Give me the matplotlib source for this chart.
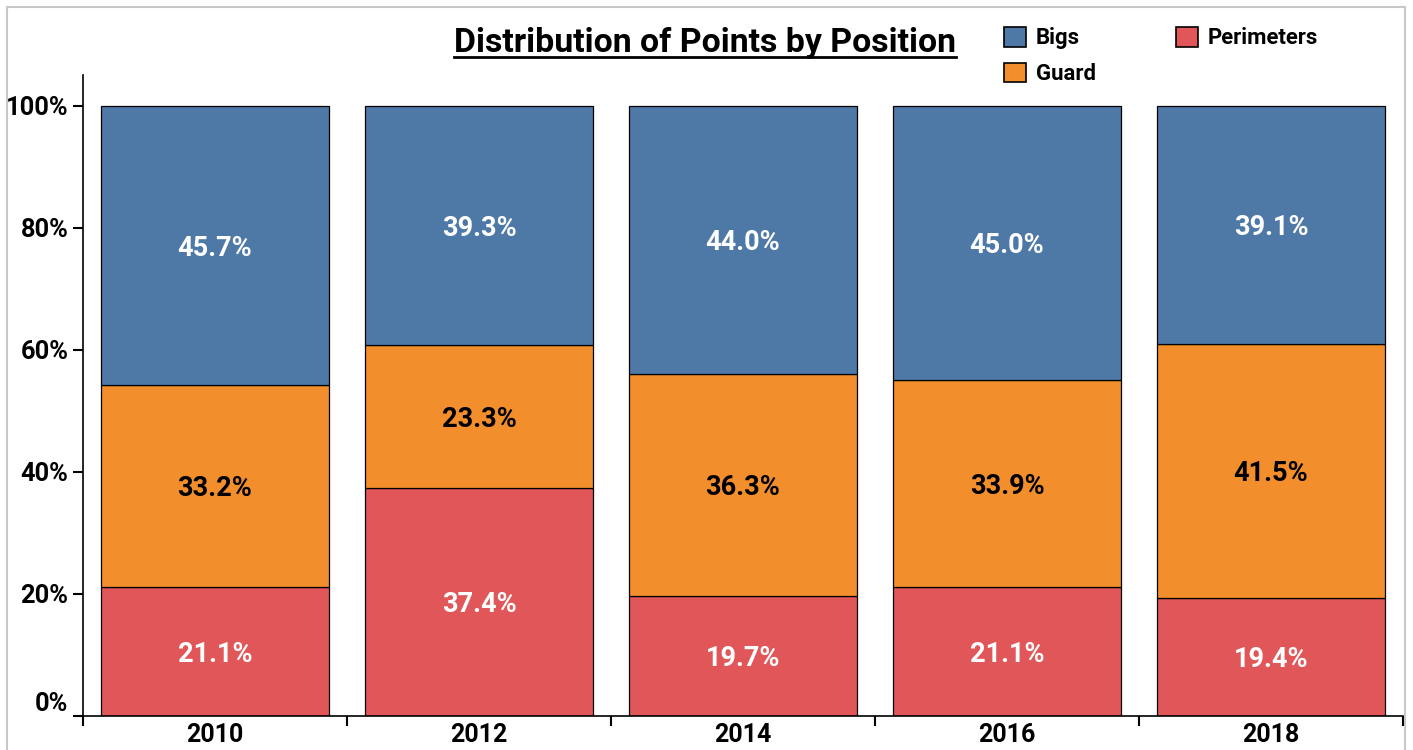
import matplotlib
matplotlib.use("Agg")
import matplotlib.pyplot as plt
from matplotlib.patches import Rectangle, Patch
from matplotlib.lines import Line2D
import numpy as np

years = ["2010", "2012", "2014", "2016", "2018"]
perimeters = [21.1, 37.4, 19.7, 21.1, 19.4]
guard = [33.2, 23.3, 36.3, 33.9, 41.5]
bigs = [45.7, 39.3, 44.0, 45.0, 39.1]
y_ticks = [0, 20, 40, 60, 80, 100]
y_tick_labels = ["0%", "20%", "40%", "60%", "80%", "100%"]

series = [("Perimeters", perimeters, "#e15759", "white"),
          ("Guard", guard, "#f28e2b", "black"),
          ("Bigs", bigs, "#4e79a7", "white")]

plt.rcParams['font.family'] = ['Roboto', 'DejaVu Sans']
plt.rcParams['font.weight'] = 'bold'

W, H = 1413, 750
fig = plt.figure(figsize=(W / 100, H / 100), dpi=100)

# outer border
fig.patches.append(Rectangle((7 / W, -0.1), (1405 - 7) / W, 1.1 - 7 / H,
                             transform=fig.transFigure, fill=False,
                             edgecolor="#c8c8c8", linewidth=1.5))

ax = fig.add_axes([83 / W, 34 / H, (1403 - 83) / W, (716 - 75) / H])
x = np.arange(len(years))
bottom = np.zeros(len(years))
for name, vals, color, tcolor in series:
    vals = np.array(vals)
    ax.bar(x, vals, bottom=bottom, width=0.867, color=color,
           edgecolor="black", linewidth=0.9, label=name)
    for xi, b, v in zip(x, bottom, vals):
        ax.text(xi, b + v / 2, f"{v:.1f}%", ha="center", va="center_baseline",
                color=tcolor, fontsize=19.5, fontweight="bold")
    bottom += vals

ax.set_xlim(-0.5, len(years) - 0.5)
ax.set_ylim(0, 105)
ax.spines["top"].set_visible(False)
ax.spines["right"].set_visible(False)
ax.spines["left"].set_linewidth(1.2)
ax.spines["bottom"].set_linewidth(1.2)

ax.set_xticks(np.arange(-0.5, len(years)), labels=[""] * (len(years) + 1))
ax.set_xticks(x, minor=True)
ax.set_xticklabels(years, minor=True, fontsize=18, fontweight="bold")
ax.tick_params(axis="x", which="major", length=7, width=1.5, direction="out")
ax.tick_params(axis="x", which="minor", length=0, pad=5)

ax.set_yticks(y_ticks, labels=y_tick_labels, fontsize=18.3, fontweight="bold")
ax.tick_params(axis="y", length=7, width=1.5, pad=3.5)
ax.get_yticklabels()[0].set_va("bottom")

# title with underline
title = fig.text(705 / W, 1 - 43 / H, "Distribution of Points by Position",
                 ha="center", va="center", fontsize=24.4, fontweight="bold")
fig.canvas.draw()
bb = title.get_window_extent()
uy = 1 - 56.5 / H
fig.add_artist(Line2D([bb.x0 / W, bb.x1 / W], [uy, uy], transform=fig.transFigure,
                      color="black", linewidth=2))

leg_handles = [Patch(facecolor=c, edgecolor="black", linewidth=1.2, label=n)
               for n, c in [("Bigs", "#4e79a7"), ("Guard", "#f28e2b"), ("Perimeters", "#e15759")]]
fig.legend(handles=leg_handles, loc="upper left", bbox_to_anchor=(1004 / W, 1 - 27 / H),
           ncol=2, frameon=False, handlelength=1.0, handleheight=1.0,
           handletextpad=0.45, columnspacing=3.6, labelspacing=0.6, borderpad=0,
           borderaxespad=0, prop={"weight": "bold", "size": 15.9})

fig.savefig("out.png", dpi=100)
